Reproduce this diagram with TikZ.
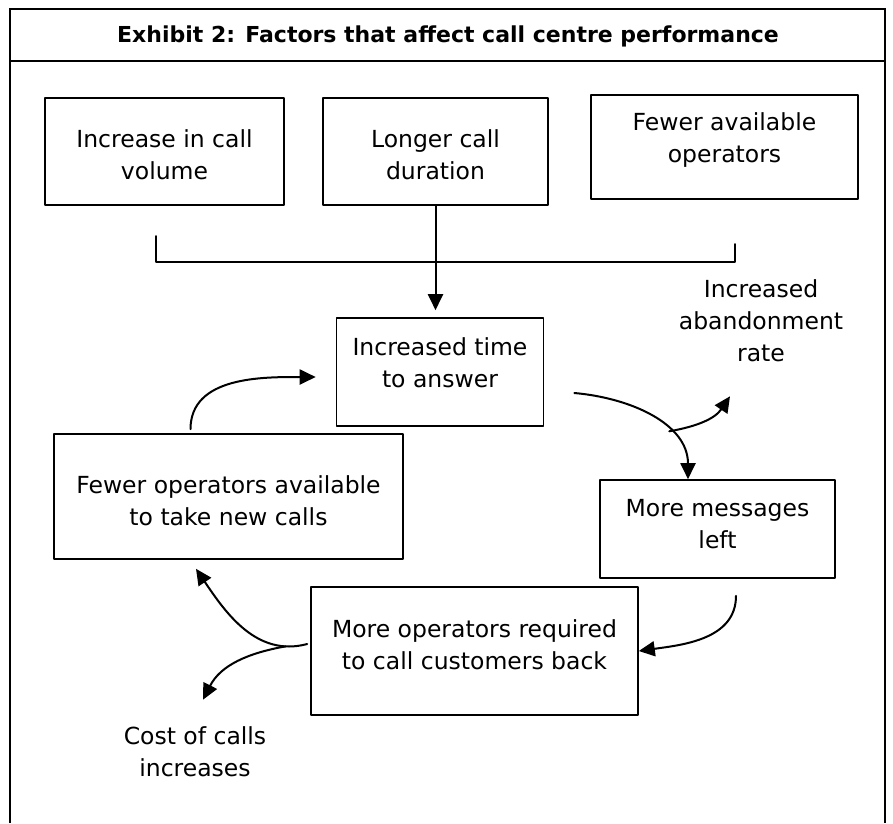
\documentclass[tikz,border=0pt]{standalone}
\usepackage{fontspec}
\setmainfont{DejaVu Sans}
\usetikzlibrary{arrows.meta,calc}

\begin{document}
\begin{tikzpicture}[x=1pt,y=-1pt,line cap=round,line join=round,
  font=\fontsize{23.5}{32}\selectfont,
  box/.style={draw,line width=1.6pt,align=center,inner sep=0pt},
  txt/.style={align=center,inner sep=0pt},
  arr/.style={line width=2pt,-{Triangle[length=16pt,width=15pt]}}]
  \useasboundingbox (0,0) rectangle (893,823);

  \draw[line width=2.8pt,line cap=butt,line join=miter] (10,823) -- (10,9) -- (885,9) -- (885,823);
  \draw[line width=2.8pt,line cap=butt] (10,61) -- (885,61);
  \node[anchor=base,font=\bfseries\fontsize{22}{26}\selectfont] (title) at (448,42) {Exhibit 2: Factors that affect call centre performance};

  \node[box,minimum width=239pt,minimum height=107pt,text height=57pt] (vol) at (164.5,151.5) {Increase in call\\volume};
  \node[box,minimum width=225pt,minimum height=107pt,text height=57pt] (dur) at (435.5,151.5) {Longer call\\duration};
  \node[box,minimum width=267pt,minimum height=104pt,text depth=18pt] (ops) at (724.5,147) {Fewer available\\operators};
  \node[box,minimum width=207pt,minimum height=108pt,text depth=18pt] (time) at (440,372) {Increased time\\to answer};
  \node[box,minimum width=349pt,minimum height=125pt,text height=58pt] (fewer) at (228.5,496.5) {Fewer operators available\\to take new calls};
  \node[box,minimum width=235pt,minimum height=98pt,text depth=10pt] (msgs) at (717.5,529) {More messages\\left};
  \node[box,minimum width=327pt,minimum height=128pt,text depth=12pt] (back) at (474.5,651) {More operators required\\to call customers back};
  \node[txt] (aband) at (761,321) {Increased\\abandonment\\rate};
  \node[txt] (cost) at (195,752) {Cost of calls\\increases};

  \coordinate (jl) at (156,236);
  \coordinate (jr) at (735,244);
  \coordinate (hl) at (156,262);
  \coordinate (hr) at (735,262);
  \draw[line width=2pt] (jl) -- (hl) -- (hr) -- (jr);
  \draw[arr,shorten >=7pt] (dur.south) -- (dur.south |- time.north);

  \draw[arr] ($(fewer.north)+(-38,-4)$) to[out=90,in=180] ($(time.west)+(-20,5)$);
  \draw[arr] ($(time.east)+(30,21)$) to[out=-5,in=90] node[coordinate,pos=0.65] (split) {} ($(msgs.north)+(-29.5,0)$);
  \draw[arr] (split) to[out=10,in=236] ($(aband.south)+(-31,34)$);
  \draw[arr] ($(msgs.south)+(18.5,17)$) to[out=-90,in=8] (back.east);
  \draw[arr] ($(back.west)+(-3,-7)$) to[out=195,in=-56] node[coordinate,pos=0.15] (split2) {} ($(fewer.south)+(-32.5,9)$);
  \draw[arr] (split2) to[out=190,in=63] ($(cost.north)+(8,-27)$);
\end{tikzpicture}
\end{document}
